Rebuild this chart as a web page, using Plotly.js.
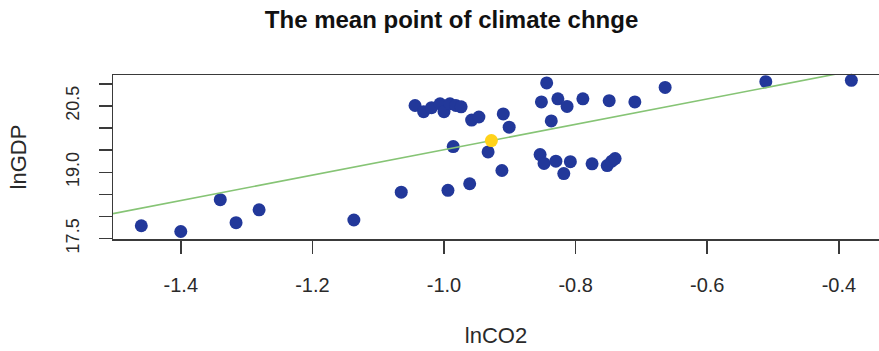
<!DOCTYPE html>
<html>
<head>
<meta charset="utf-8">
<script src="https://cdn.plot.ly/plotly-3.0.1.min.js"></script>
<style>html,body{margin:0;padding:0;background:#fff;}#chart{width:879px;height:351px;}</style>
</head>
<body>
<div id="chart"></div>
<script>
const lnCO2 = [-1.460, -1.400, -1.340, -1.316, -1.281, -1.137, -1.065, -0.994, -0.961, -0.986,
  -0.933, -0.912, -1.044, -1.031, -1.019, -1.006, -1.000, -0.991, -0.982, -0.974,
  -0.958, -0.947, -0.910, -0.901, -0.844, -0.852, -0.827, -0.813, -0.789, -0.749,
  -0.710, -0.664, -0.511, -0.381, -0.837, -0.854, -0.848, -0.830, -0.808, -0.818,
  -0.775, -0.752, -0.745, -0.740];
const lnGDP = [17.79, 17.66, 18.38, 17.86, 18.15, 17.92, 18.55, 18.59, 18.74, 19.58,
  19.46, 19.04, 20.51, 20.37, 20.46, 20.55, 20.37, 20.55, 20.51, 20.48,
  20.18, 20.25, 20.32, 20.02, 21.02, 20.59, 20.66, 20.49, 20.66, 20.62,
  20.59, 20.92, 21.05, 21.08, 20.16, 19.40, 19.20, 19.25, 19.24, 18.97,
  19.19, 19.15, 19.25, 19.31];
// Mean point
const meanPoint = [-0.928, 19.717];
// Fitted line lnGDP = intercept + slope * lnCO2
const fitIntercept = 22.383;
const fitSlope = 2.873;
// Axis ranges and ticks
const xRange = [-1.503, -0.339];
const yRange = [17.49, 21.20];
const xTickVals = [-1.4, -1.2, -1.0, -0.8, -0.6, -0.4];
const xTickText = ["-1.4", "-1.2", "-1.0", "-0.8", "-0.6", "-0.4"];
const yTickVals = [17.5, 18.0, 18.5, 19.0, 19.5, 20.0, 20.5, 21.0];
const yTickText = ["17.5", "", "", "19.0", "", "", "20.5", ""];

const fitX = xRange.slice();
const fitY = fitX.map(v => fitIntercept + fitSlope * v);

const axisColor = '#3a3a3a';
const fam = 'Liberation Sans, Arial, sans-serif';
const xTickFont = {family: fam, size: 20, color: '#2a2a2a'};
const yTickFont = {family: fam, size: 18, color: '#2a2a2a'};
const titleFont = {family: fam, size: 22, color: '#2a2a2a'};

const traces = [
  {x: lnCO2, y: lnGDP, type: 'scatter', mode: 'markers', cliponaxis: false,
   marker: {color: '#22389a', size: 13}, hoverinfo: 'x+y'},
  {x: fitX, y: fitY, type: 'scatter', mode: 'lines',
   line: {color: '#86c475', width: 1.6}},
  {x: [meanPoint[0]], y: [meanPoint[1]], type: 'scatter', mode: 'markers', cliponaxis: false,
   marker: {color: '#ffd21a', size: 13}}
];

const layout = {
  width: 879, height: 351,
  margin: {l: 113, r: 0, t: 75, b: 112},
  paper_bgcolor: '#ffffff', plot_bgcolor: '#ffffff',
  showlegend: false,
  font: {family: fam, size: 18, color: '#2a2a2a'},
  title: {text: 'The mean point of climate chnge', font: {family: fam, size: 24, color: '#111', weight: 'bold'},
          x: 0.5137, xanchor: 'center', xref: 'container', y: 0.943, yanchor: 'middle', yref: 'container'},
  xaxis: {range: xRange, tickmode: 'array', tickvals: xTickVals, ticktext: xTickText,
          showgrid: false, zeroline: false, showline: true, mirror: true, linecolor: axisColor, linewidth: 1.5,
          ticks: 'outside', ticklen: 13, tickwidth: 1.5, tickcolor: axisColor, ticklabelstandoff: 14,
          tickfont: xTickFont,
          title: {text: 'lnCO2', font: titleFont, standoff: 33}},
  yaxis: {range: yRange, tickmode: 'array', tickvals: yTickVals, ticktext: yTickText, tickangle: -90,
          showgrid: false, zeroline: false, showline: true, mirror: false, linecolor: axisColor, linewidth: 1.5,
          ticks: 'outside', ticklen: 13, tickwidth: 1.5, tickcolor: axisColor, ticklabelstandoff: 12,
          tickfont: yTickFont,
          title: {text: 'lnGDP', font: titleFont, standoff: 30}}
};

Plotly.newPlot('chart', traces, layout, {staticPlot: true, displayModeBar: false});
</script>
</body>
</html>
